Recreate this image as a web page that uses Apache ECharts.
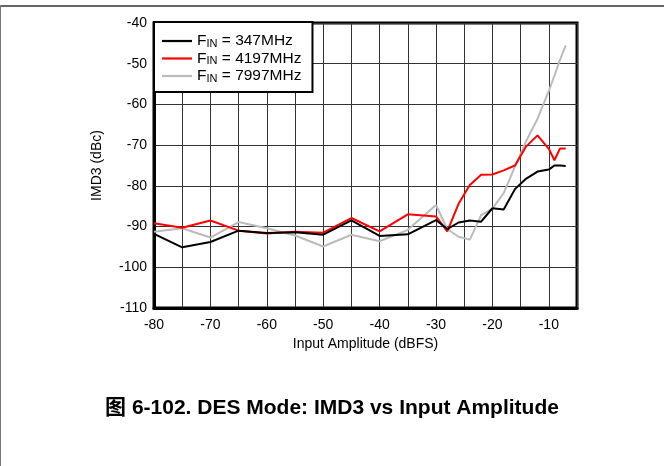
<!DOCTYPE html>
<html>
<head>
<meta charset="utf-8">
<script src="https://cdn.jsdelivr.net/npm/echarts@6/dist/echarts.min.js"></script>
<style>
html,body{margin:0;padding:0;background:#fff;}
#chart{width:664px;height:466px;}
</style>
</head>
<body>
<div id="chart"></div>
<script>
// Input amplitude (dBFS) sample points
const xValues = [-80,-75,-70,-65,-60,-55,-50,-45,-40,-35,-30,-28,-26,-24,-22,-20,-18,-16,-14,-12,-10,-9,-8,-7];
// IMD3 (dBc) for each input frequency
const imd347 = [-91.8,-95.1,-93.8,-91.0,-91.6,-91.4,-92.0,-88.5,-92.3,-91.9,-88.4,-90.6,-89.0,-88.5,-88.8,-85.5,-85.8,-80.8,-78.2,-76.5,-76.0,-75.0,-75.0,-75.1];
const imd4197 = [-89.2,-90.3,-88.5,-91.0,-91.7,-91.3,-91.5,-87.9,-91.2,-87.0,-87.5,-91.2,-84.4,-79.8,-77.3,-77.2,-76.2,-75.0,-70.3,-67.6,-70.9,-73.7,-70.8,-70.8];
const imd7997 = [-91.3,-90.4,-92.7,-88.9,-90.4,-92.2,-94.9,-92.0,-93.6,-90.8,-84.7,-90.6,-92.5,-93.2,-87.2,-85.6,-81.8,-75.3,-69.0,-63.5,-56.7,-52.9,-49.0,-45.5];
const seriesNames = ['FIN = 347MHz','FIN = 4197MHz','FIN = 7997MHz'];
const legendFreqs = ['347MHz','4197MHz','7997MHz'];
const seriesColors = ['#000000','#ff0000','#bbbbbb'];
const xTicks = {min:-80, max:-5, interval:5};
const yTicks = {min:-110, max:-40, interval:10};

const FONT = '"Liberation Sans", Arial, Helvetica, "Noto Sans CJK SC", sans-serif';
const chart = echarts.init(document.getElementById('chart'), null, {renderer:'canvas'});

function pairs(ys){ return xValues.map((x,i)=>[x, ys[i]]); }
const allData = [imd347, imd4197, imd7997];

const option = {
  backgroundColor:'#fff',
  animation:false,
  title:{
    text:'图 6-102. DES Mode: IMD3 vs Input Amplitude',
    left:'center', top:393,
    textStyle:{fontFamily:FONT, fontSize:21, fontWeight:'bold', color:'#000'}
  },
  graphic:[
    {type:'line', shape:{x1:0,y1:6,x2:664,y2:6}, style:{stroke:'#666', lineWidth:2}},
    {type:'line', shape:{x1:0.5,y1:5,x2:0.5,y2:466}, style:{stroke:'#777', lineWidth:1}}
  ],
  grid:{left:154, right:87, top:23, bottom:158, show:true, borderColor:'#000', borderWidth:3, backgroundColor:'#fff'},
  legend:{
    orient:'vertical', left:154, top:22,
    padding:[11,11,8,8],
    itemWidth:30, itemHeight:14, itemGap:1.5,
    icon:'path://M0,0H30V2.2H0Z',
    backgroundColor:'#fff', borderColor:'#000', borderWidth:2,
    data: seriesNames,
    formatter: function(name){
      const i = seriesNames.indexOf(name);
      return '{a|F}{b|IN}{a| = ' + legendFreqs[i] + '}';
    },
    textStyle:{
      fontFamily:FONT, fontSize:15, color:'#000',
      rich:{
        a:{fontFamily:FONT, fontSize:15.5, color:'#000', lineHeight:16},
        b:{fontFamily:FONT, fontSize:11, color:'#000', lineHeight:16, padding:[5,0,0,0]}
      }
    }
  },
  xAxis:{
    type:'value', min:xTicks.min, max:xTicks.max, interval:xTicks.interval,
    name:'Input Amplitude (dBFS)', nameLocation:'middle', nameGap:28,
    nameTextStyle:{fontFamily:FONT, fontSize:14, color:'#000'},
    axisLine:{show:true, onZero:false, lineStyle:{color:'#000', width:3}},
    axisTick:{show:false},
    axisLabel:{
      fontFamily:FONT, fontSize:14, color:'#000', margin:10,
      formatter:function(v){ return (v % 10 === 0) ? String(v) : ''; }
    },
    splitLine:{show:true, lineStyle:{color:'#333', width:1}}
  },
  yAxis:{
    type:'value', min:yTicks.min, max:yTicks.max, interval:yTicks.interval,
    name:'IMD3 (dBc)', nameLocation:'middle', nameGap:50, nameRotate:90,
    nameTextStyle:{fontFamily:FONT, fontSize:14, color:'#000'},
    axisLine:{show:true, onZero:false, lineStyle:{color:'#000', width:3}},
    axisTick:{show:false},
    axisLabel:{fontFamily:FONT, fontSize:14, color:'#000', margin:7},
    splitLine:{show:true, lineStyle:{color:'#333', width:1}}
  },
  series: seriesNames.map((n,i)=>({
    name:n, type:'line', data:pairs(allData[i]),
    symbol:'none', z: 10 - i,
    lineStyle:{color:seriesColors[i], width:2},
    itemStyle:{color:seriesColors[i]}
  }))
};
chart.setOption(option);
</script>
</body>
</html>
